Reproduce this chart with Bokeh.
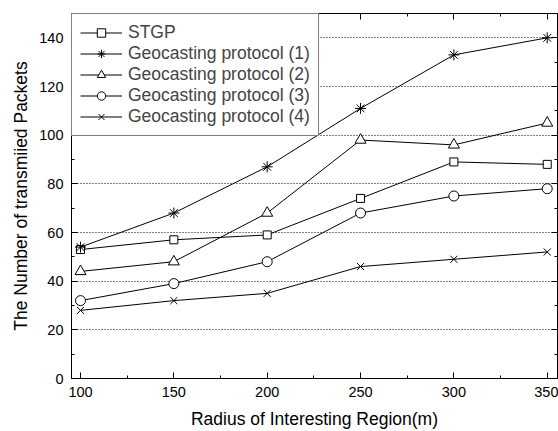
from bokeh.plotting import figure
from bokeh.models import (Range1d, LinearAxis, SingleIntervalTicker, Legend, LegendItem,
                          CustomJSTickFormatter)
from bokeh.embed import file_html
from bokeh.resources import INLINE

radius = [100, 150, 200, 250, 300, 350]
stgp = [53, 57, 59, 74, 89, 88]
geo1 = [54, 68, 87, 111, 133, 140]
geo2 = [44, 48, 68, 98, 96, 105]
geo3 = [32, 39, 48, 68, 75, 78]
geo4 = [28, 32, 35, 46, 49, 52]

names = ["STGP", "Geocasting protocol (1)", "Geocasting protocol (2)",
         "Geocasting protocol (3)", "Geocasting protocol (4)"]
series = [stgp, geo1, geo2, geo3, geo4]
markers = ["square", "asterisk", "triangle", "circle", "x"]
sizes = [8, 11, 11, 10, 10]

FONT = "Liberation Sans"

p = figure(width=558, height=431, output_backend="svg", toolbar_location=None,
           x_range=Range1d(95.18, 355.5), y_range=Range1d(0, 150),
           x_axis_location=None, y_axis_location=None,
           min_border_left=71, min_border_right=1, min_border_top=13, min_border_bottom=52)
p.background_fill_color = "white"
p.border_fill_color = "white"
p.outline_line_color = "black"
p.outline_line_width = 1

bottom = LinearAxis(ticker=SingleIntervalTicker(interval=50, num_minor_ticks=2),
                    axis_label="Radius of Interesting Region(m)")
left = LinearAxis(ticker=SingleIntervalTicker(interval=20, num_minor_ticks=2),
                  axis_label="The Number of transmiied Packets")
top = LinearAxis(ticker=SingleIntervalTicker(interval=50, num_minor_ticks=2),
                 formatter=CustomJSTickFormatter(code="return ''"))
right = LinearAxis(ticker=SingleIntervalTicker(interval=20, num_minor_ticks=2),
                   formatter=CustomJSTickFormatter(code="return ''"))
p.add_layout(bottom, "below")
p.add_layout(left, "left")
p.add_layout(top, "above")
p.add_layout(right, "right")

for ax in (bottom, left, top, right):
    ax.axis_line_color = "black"
    ax.axis_line_width = 1
    ax.major_tick_line_color = "black"
    ax.minor_tick_line_color = "black"
    ax.major_tick_in = 6
    ax.major_tick_out = 0
    ax.minor_tick_in = 3
    ax.minor_tick_out = 0
    ax.major_label_text_font = FONT
    ax.axis_label_text_font = FONT
    ax.axis_label_text_font_style = "normal"
    ax.axis_label_text_color = "black"
    ax.major_label_text_color = "black"

for ax in (top, right):
    ax.major_label_standoff = 0

for ax in (bottom, left):
    ax.major_label_text_font_size = "14.5px"
    ax.axis_label_text_font_size = "17.5px"
bottom.major_label_standoff = 8
bottom.axis_label_standoff = 9
left.major_label_standoff = 8
left.axis_label_standoff = 5

grid_ticker = SingleIntervalTicker(interval=20, num_minor_ticks=2)
p.ygrid.ticker = grid_ticker
p.xgrid.visible = False
p.ygrid.grid_line_color = "black"
p.ygrid.grid_line_dash = "1 2"
p.ygrid.grid_line_width = 1

items = []
for name, vals, mk, sz in zip(names, series, markers, sizes):
    ln = p.line(radius, vals, line_color="black", line_width=1)
    sc = p.scatter(radius, vals, marker=mk, size=sz, line_color="black",
                   fill_color="white", line_width=1)
    items.append(LegendItem(label=name, renderers=[ln, sc]))

legend = Legend(items=items, location="top_left")
legend.margin = 0
legend.padding = 8
legend.spacing = 0
legend.glyph_width = 42
legend.glyph_height = 21
legend.label_height = 21
legend.label_standoff = 6
legend.label_text_font = FONT
legend.label_text_font_size = "17.5px"
legend.border_line_color = "black"
legend.border_line_width = 1
legend.background_fill_color = "white"
legend.background_fill_alpha = 1
p.add_layout(legend, "center")

open("out.html", "w").write(file_html(p, INLINE))
